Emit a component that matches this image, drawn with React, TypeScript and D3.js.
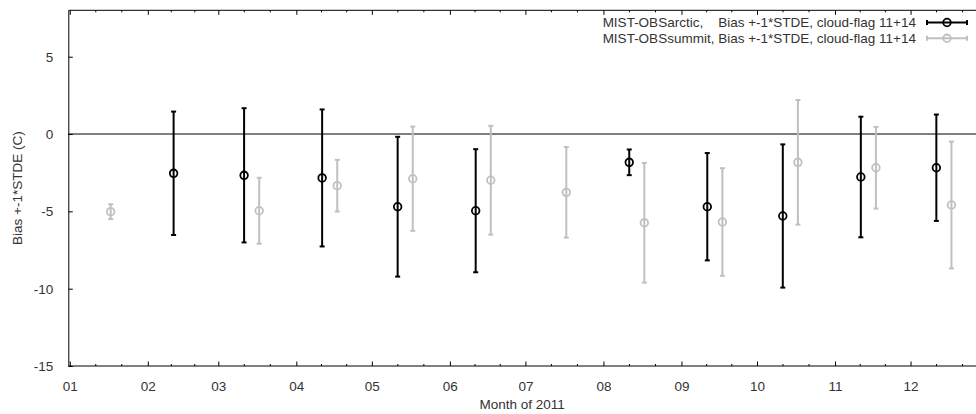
import React, { useEffect, useRef } from 'react'
import * as d3 from 'd3'

// MIST-OBSarctic, monthly bias and +-1 STDE (cloud-flag 11+14)
const arcticDates = ['2011-02-11', '2011-03-11', '2011-04-11', '2011-05-11', '2011-06-11', '2011-08-11', '2011-09-11', '2011-10-11', '2011-11-11', '2011-12-11']
const arcticBias = [-2.54, -2.67, -2.84, -4.7, -4.96, -1.83, -4.7, -5.3, -2.78, -2.18]
const arcticStde = [3.99, 4.34, 4.43, 4.52, 3.98, 0.83, 3.47, 4.63, 3.9, 3.44]

// MIST-OBSsummit
const summitDates = ['2011-01-17', '2011-03-17', '2011-04-17', '2011-05-17', '2011-06-17', '2011-07-17', '2011-08-17', '2011-09-17', '2011-10-17', '2011-11-17', '2011-12-17']
const summitBias = [-5.02, -4.96, -3.34, -2.89, -2.99, -3.77, -5.74, -5.69, -1.83, -2.18, -4.59]
const summitStde = [0.48, 2.13, 1.67, 3.37, 3.52, 2.93, 3.87, 3.48, 4.03, 2.64, 4.1]

const yTicks = [5, 0, -5, -10, -15]
const legendLabels = [
  'MIST-OBSarctic,    Bias +-1*STDE, cloud-flag 11+14',
  'MIST-OBSsummit, Bias +-1*STDE, cloud-flag 11+14',
]
const seriesColors = ['#000000', '#c0c0c0']

const W = 976
const H = 414
const FONT = '"Liberation Sans", Arial, sans-serif'
const FS = 13.5

const App = () => {
  const svgRef = useRef<SVGSVGElement>(null)

  useEffect(() => {
    document.body.style.margin = '0'
    const svg = d3.select(svgRef.current)
    svg.selectAll('*').remove()

    const margin = { top: 10.3, right: 0, bottom: 48, left: 68.3 }
    const parse = d3.timeParse('%Y-%m-%d %H')

    // x: time axis, y: bias in C
    const xScale = d3
      .scaleTime()
      .domain([new Date(2010, 11, 31, 10), new Date(2011, 11, 27)])
      .range([margin.left, W - margin.right])
    const yScale = d3
      .scaleLinear()
      .domain([-15, 8])
      .range([H - margin.bottom, margin.top])

    const x0 = margin.left
    const x1 = W - margin.right
    const y0 = margin.top
    const y1 = H - margin.bottom

    const months = d3.timeMonth.range(new Date(2011, 0, 1), new Date(2012, 0, 1))
    const minor: Date[] = []
    months.forEach((m) => {
      const next = d3.timeMonth.offset(m, 1)
      const span = +next - +m
      minor.push(new Date(+m + span / 3), new Date(+m + (2 * span) / 3))
    })

    const g = svg.append('g')

    // zero line
    g.append('line')
      .attr('x1', x0)
      .attr('x2', x1)
      .attr('y1', yScale(0))
      .attr('y2', yScale(0))
      .attr('stroke', '#000')
      .attr('stroke-width', 1)

    // bottom axis with inward ticks
    const xAxis = d3
      .axisBottom(xScale)
      .tickValues(months)
      .tickSizeInner(-4.5)
      .tickSizeOuter(0)
      .tickPadding(15)
      .tickFormat(d3.timeFormat('%m') as any)
    const xg = g.append('g').attr('transform', `translate(0,${y1})`).call(xAxis)
    xg.select('.domain').remove()
    xg.selectAll('text').attr('font-family', FONT).attr('font-size', FS).attr('fill', '#333')
    xg.selectAll('line').attr('stroke', '#000')

    // top mirror ticks
    const xTop = d3.axisTop(xScale).tickValues(months).tickSizeInner(-4.5).tickSizeOuter(0).tickFormat(() => '')
    const xt = g.append('g').attr('transform', `translate(0,${y0})`).call(xTop)
    xt.select('.domain').remove()
    xt.selectAll('line').attr('stroke', '#000')

    // minor ticks top and bottom
    ;[
      [y1, -2],
      [y0, 2],
    ].forEach(([yy, len]) => {
      g.append('g')
        .selectAll('line')
        .data(minor)
        .enter()
        .append('line')
        .attr('x1', (d) => xScale(d))
        .attr('x2', (d) => xScale(d))
        .attr('y1', yy)
        .attr('y2', yy + len)
        .attr('stroke', '#000')
    })

    // left axis, plain hyphen minus like gnuplot
    const yAxis = d3
      .axisLeft(yScale)
      .tickValues(yTicks)
      .tickSizeInner(-4.5)
      .tickSizeOuter(0)
      .tickPadding(15)
      .tickFormat((d) => String(d))
    const yg = g.append('g').attr('transform', `translate(${x0},0)`).call(yAxis)
    yg.select('.domain').remove()
    yg.selectAll('text').attr('font-family', FONT).attr('font-size', FS).attr('fill', '#333')
    yg.selectAll('line').attr('stroke', '#000')

    // border (left, top, bottom)
    g.append('path')
      .attr('d', `M${x1},${y0}H${x0 + 0.5}V${y1}H${x1}`)
      .attr('fill', 'none')
      .attr('stroke', '#000')
      .attr('stroke-width', 1)

    // error bars
    const series = [
      { dates: arcticDates, bias: arcticBias, stde: arcticStde, color: seriesColors[0] },
      { dates: summitDates, bias: summitBias, stde: summitStde, color: seriesColors[1] },
    ]
    series.forEach((s) => {
      const data = s.dates.map((d, i) => ({ date: parse(d + ' 06') as Date, bias: s.bias[i], stde: s.stde[i] }))
      const sg = g.append('g').attr('stroke', s.color).attr('fill', 'none').attr('stroke-width', 2)
      const item = sg.selectAll('g').data(data).enter().append('g')
      item
        .append('line')
        .attr('x1', (d) => xScale(d.date))
        .attr('x2', (d) => xScale(d.date))
        .attr('y1', (d) => yScale(d.bias + d.stde))
        .attr('y2', (d) => yScale(d.bias - d.stde))
      ;[1, -1].forEach((sign) => {
        item
          .append('line')
          .attr('x1', (d) => xScale(d.date) - 2.5)
          .attr('x2', (d) => xScale(d.date) + 2.5)
          .attr('y1', (d) => yScale(d.bias + sign * d.stde))
          .attr('y2', (d) => yScale(d.bias + sign * d.stde))
      })
      item
        .append('circle')
        .attr('cx', (d) => xScale(d.date))
        .attr('cy', (d) => yScale(d.bias))
        .attr('r', 3.8)
        .attr('stroke-width', 1.8)
    })

    // legend
    legendLabels.forEach((label, i) => {
      const ly = 22.5 + i * 15.8
      g.append('text')
        .attr('x', 916)
        .attr('y', ly + 4.6)
        .attr('text-anchor', 'end')
        .attr('font-family', FONT)
        .attr('font-size', FS)
        .attr('fill', '#333')
        .style('white-space', 'pre')
        .text(label)
      const lg = g.append('g').attr('stroke', seriesColors[i]).attr('fill', 'none').attr('stroke-width', 2)
      lg.append('line').attr('x1', 927).attr('x2', 967).attr('y1', ly).attr('y2', ly)
      ;[927, 967].forEach((cx) => {
        lg.append('line').attr('x1', cx).attr('x2', cx).attr('y1', ly - 2.5).attr('y2', ly + 2.5)
      })
      lg.append('circle').attr('cx', 947).attr('cy', ly).attr('r', 3.8).attr('stroke-width', 1.8).attr('fill', 'none')
    })

    // axis titles
    g.append('text')
      .attr('x', (x0 + x1) / 2)
      .attr('y', 409)
      .attr('text-anchor', 'middle')
      .attr('font-family', FONT)
      .attr('font-size', FS)
      .attr('fill', '#333')
      .text('Month of 2011')
    g.append('text')
      .attr('transform', `translate(22,${(y0 + y1) / 2}) rotate(-90)`)
      .attr('text-anchor', 'middle')
      .attr('font-family', FONT)
      .attr('font-size', FS)
      .attr('fill', '#333')
      .text('Bias +-1*STDE (C)')
  }, [])

  return <svg ref={svgRef} width={W} height={H} style={{ display: 'block' }}></svg>
}

export default App
